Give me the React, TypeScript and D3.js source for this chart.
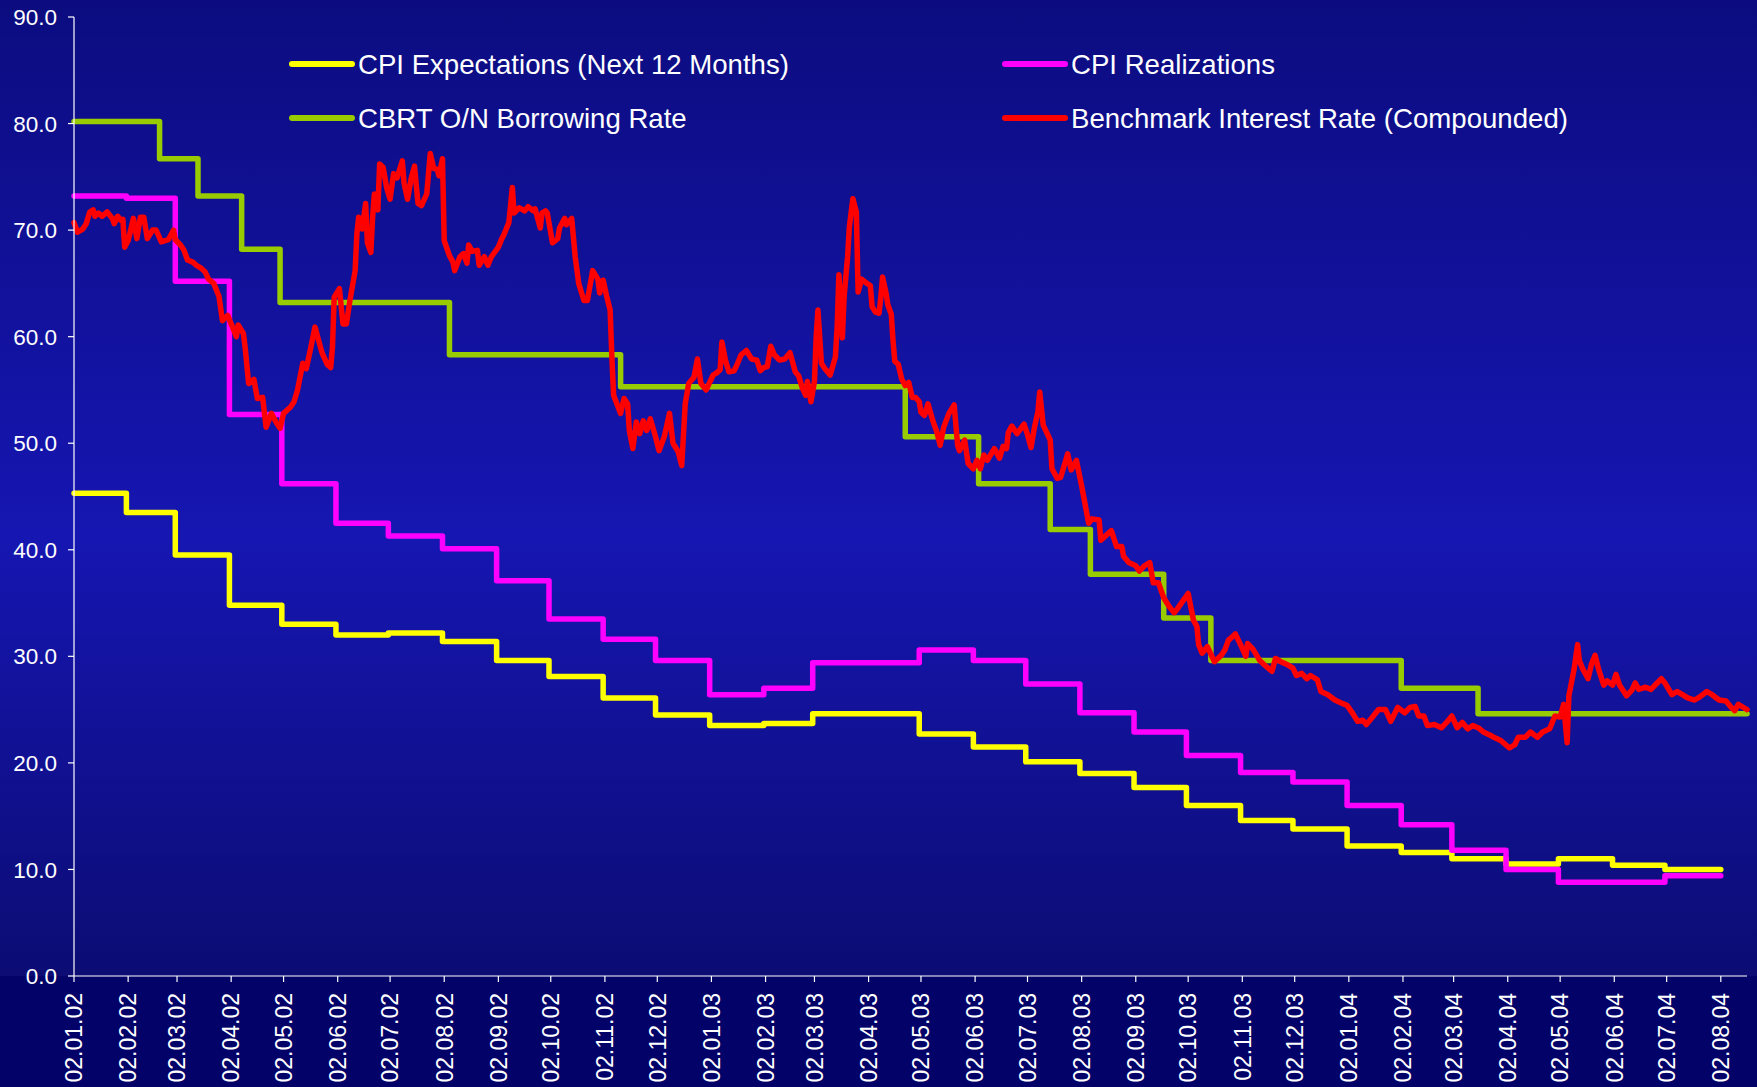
import React from "react";
import * as d3 from "d3";

const WIDTH = 1757;
const HEIGHT = 1087;

// X axis tick labels (dd.mm.yy)
const X_TICK_LABELS = [
  "02.01.02", "02.02.02", "02.03.02", "02.04.02", "02.05.02", "02.06.02", "02.07.02", "02.08.02",
  "02.09.02", "02.10.02", "02.11.02", "02.12.02", "02.01.03", "02.02.03", "02.03.03", "02.04.03",
  "02.05.03", "02.06.03", "02.07.03", "02.08.03", "02.09.03", "02.10.03", "02.11.03", "02.12.03",
  "02.01.04", "02.02.04", "02.03.04", "02.04.04", "02.05.04", "02.06.04", "02.07.04", "02.08.04",
];
const Y_TICKS = [0, 10, 20, 30, 40, 50, 60, 70, 80, 90];

// Step series: [date the level starts, value]
const CPI_EXPECTATIONS: [string, number][] = [
  ["2002-01-02", 45.3], ["2002-02-01", 43.5], ["2002-03-01", 39.5], ["2002-04-01", 34.8],
  ["2002-05-01", 33.0], ["2002-06-01", 32.0], ["2002-07-01", 32.2], ["2002-08-01", 31.4],
  ["2002-09-01", 29.6], ["2002-10-01", 28.1], ["2002-11-01", 26.1], ["2002-12-01", 24.5],
  ["2003-01-01", 23.5], ["2003-02-01", 23.7], ["2003-03-01", 24.6], ["2003-05-01", 22.7],
  ["2003-06-01", 21.5], ["2003-07-01", 20.1], ["2003-08-01", 19.0], ["2003-09-01", 17.7],
  ["2003-10-01", 16.0], ["2003-11-01", 14.6], ["2003-12-01", 13.8], ["2004-01-01", 12.2],
  ["2004-02-01", 11.6], ["2004-03-01", 11.0], ["2004-04-01", 10.5], ["2004-05-01", 11.0],
  ["2004-06-01", 10.4], ["2004-07-01", 10.0], ["2004-08-02", 10.0],
];

const CPI_REALIZATIONS: [string, number][] = [
  ["2002-01-02", 73.2], ["2002-02-01", 73.0], ["2002-03-01", 65.2], ["2002-04-01", 52.7],
  ["2002-05-01", 46.2], ["2002-06-01", 42.5], ["2002-07-01", 41.3], ["2002-08-01", 40.1],
  ["2002-09-01", 37.1], ["2002-10-01", 33.5], ["2002-11-01", 31.6], ["2002-12-01", 29.6],
  ["2003-01-01", 26.4], ["2003-02-01", 27.0], ["2003-03-01", 29.4], ["2003-05-01", 30.6],
  ["2003-06-01", 29.6], ["2003-07-01", 27.4], ["2003-08-01", 24.7], ["2003-09-01", 22.9],
  ["2003-10-01", 20.7], ["2003-11-01", 19.1], ["2003-12-01", 18.2], ["2004-01-01", 16.0],
  ["2004-02-01", 14.2], ["2004-03-01", 11.8], ["2004-04-01", 10.0], ["2004-05-01", 8.8],
  ["2004-07-01", 9.4], ["2004-08-02", 9.4],
];

const CBRT_ON_BORROWING: [string, number][] = [
  ["2002-01-02", 80.2], ["2002-02-20", 76.7], ["2002-03-14", 73.2], ["2002-04-08", 68.2],
  ["2002-04-30", 63.2], ["2002-08-05", 58.3], ["2002-11-11", 55.3], ["2003-04-23", 50.6],
  ["2003-06-04", 46.2], ["2003-07-15", 41.9], ["2003-08-07", 37.7], ["2003-09-18", 33.6],
  ["2003-10-15", 29.6], ["2004-02-01", 27.0], ["2004-03-16", 24.6], ["2004-08-17", 24.6],
];

// Benchmark rate: [calendar days since BENCHMARK_START, value]
const BENCHMARK_START = "2002-01-02";
const BENCHMARK_RATE: [number, number][] = [
  [0, 70.7], [2, 69.8], [5, 70.1], [7, 70.6], [9, 71.7], [11, 71.9], [12, 71.3], [14, 71.6],
  [16, 71.3], [19, 71.7], [22, 71.1], [23, 70.6], [25, 71.3], [27, 70.9], [28, 71.0], [29, 68.4],
  [31, 69.0], [34, 71.1], [36, 69.2], [38, 71.2], [40, 71.2], [42, 69.2], [45, 70.0], [47, 70.0],
  [50, 68.9], [54, 69.1], [57, 70.0], [58, 69.1], [61, 68.6], [63, 68.1], [65, 67.2], [68, 67.0],
  [70, 66.7], [73, 66.4], [75, 66.1], [77, 65.4], [80, 65.0], [83, 63.8], [85, 61.5], [88, 62.0],
  [90, 61.2], [93, 60.0], [94, 61.1], [97, 60.3], [98, 59.0], [100, 55.6], [103, 56.0], [105, 54.2],
  [108, 54.3], [110, 51.5], [113, 52.8], [116, 51.9], [118, 51.4], [120, 52.8], [124, 53.4], [126, 53.9],
  [128, 55.0], [131, 57.5], [133, 57.0], [135, 58.5], [138, 60.9], [140, 59.7], [142, 58.5], [145, 57.4],
  [147, 57.1], [148, 59.0], [149, 63.7], [152, 64.5], [154, 61.2], [156, 61.2], [158, 63.4], [161, 66.2],
  [162, 69.7], [163, 71.2], [165, 70.1], [167, 72.5], [168, 68.8], [170, 67.9], [171, 71.2], [172, 73.4],
  [174, 71.9], [175, 76.2], [177, 75.9], [179, 74.0], [181, 72.9], [183, 75.3], [185, 74.9], [188, 76.5],
  [189, 74.4], [191, 72.9], [193, 74.8], [195, 76.0], [197, 72.5], [199, 72.3], [202, 73.4], [204, 77.2],
  [206, 75.8], [208, 75.7], [209, 75.1], [211, 76.7], [212, 69.0], [215, 67.6], [217, 67.0], [218, 66.2],
  [221, 67.5], [223, 67.8], [225, 66.9], [226, 68.6], [228, 68.0], [231, 68.1], [232, 66.7], [235, 67.5],
  [237, 66.7], [239, 67.5], [243, 68.4], [245, 69.2], [246, 69.5], [249, 70.7], [251, 74.0], [252, 71.6],
  [255, 72.1], [258, 71.8], [260, 72.2], [263, 71.8], [264, 72.0], [267, 70.2], [268, 71.6], [270, 71.8],
  [271, 71.6], [274, 68.8], [277, 69.2], [278, 70.2], [281, 71.1], [282, 70.5], [285, 71.1], [287, 67.5],
  [289, 65.0], [292, 63.4], [294, 63.4], [297, 66.2], [300, 65.4], [301, 64.1], [303, 65.3], [305, 63.8],
  [307, 62.5], [308, 58.1], [309, 54.5], [313, 52.8], [315, 54.2], [317, 53.7], [318, 51.2], [320, 49.5],
  [322, 52.0], [324, 50.9], [326, 52.1], [328, 51.2], [330, 52.3], [333, 50.6], [335, 49.3], [338, 50.6],
  [341, 52.8], [343, 50.0], [346, 49.2], [348, 47.9], [350, 53.7], [352, 55.6], [355, 56.2], [357, 57.9],
  [359, 55.6], [362, 55.0], [366, 56.4], [368, 56.6], [370, 56.9], [371, 59.5], [373, 57.8], [375, 56.7],
  [378, 56.8], [380, 57.5], [382, 58.3], [385, 58.7], [388, 57.9], [391, 57.8], [393, 56.8], [395, 57.1],
  [397, 57.2], [399, 59.1], [401, 58.3], [404, 57.8], [407, 57.9], [410, 58.5], [413, 56.7], [415, 56.3],
  [417, 55.2], [419, 54.5], [420, 55.8], [422, 53.9], [424, 55.8], [425, 60.0], [426, 62.5], [428, 57.5],
  [430, 57.0], [433, 56.4], [436, 58.1], [437, 60.9], [438, 65.8], [440, 59.9], [441, 63.8], [443, 67.5],
  [444, 70.3], [446, 72.95], [448, 71.7], [449, 64.2], [450, 64.8], [451, 65.4], [454, 65.0], [456, 64.8],
  [457, 62.8], [459, 62.3], [461, 62.2], [462, 63.7], [463, 65.6], [465, 64.1], [466, 63.0], [468, 62.1],
  [469, 59.6], [470, 57.7], [472, 57.4], [474, 56.0], [476, 55.4], [478, 55.7], [480, 54.3], [482, 54.3],
  [484, 53.9], [485, 52.9], [487, 52.6], [489, 53.7], [492, 52.0], [494, 51.1], [496, 49.8], [498, 51.5],
  [501, 52.8], [504, 53.6], [506, 49.8], [507, 49.3], [510, 50.3], [512, 48.1], [515, 47.6], [517, 48.4],
  [519, 47.6], [521, 48.9], [523, 48.4], [527, 49.5], [530, 48.6], [532, 49.7], [534, 49.5], [535, 51.0],
  [537, 51.6], [540, 50.9], [544, 51.8], [546, 50.8], [548, 49.6], [550, 51.5], [552, 53.0], [553, 54.8],
  [555, 51.7], [559, 50.3], [560, 47.6], [563, 46.7], [565, 46.8], [569, 49.0], [571, 47.5], [574, 48.4],
  [577, 46.0], [581, 42.5], [583, 42.9], [587, 42.8], [588, 40.9], [590, 41.2], [594, 41.8], [597, 40.3],
  [600, 40.3], [601, 39.4], [604, 38.8], [608, 38.5], [610, 38.0], [613, 38.5], [616, 38.8], [618, 36.9],
  [621, 36.9], [624, 35.5], [627, 34.7], [630, 34.1], [632, 34.5], [635, 35.2], [638, 35.9], [641, 33.4],
  [643, 32.8], [644, 31.1], [646, 30.3], [649, 30.9], [653, 29.5], [657, 30.1], [659, 30.6], [661, 31.5],
  [665, 32.1], [668, 31.1], [671, 30.0], [672, 31.2], [675, 30.7], [679, 29.6], [683, 29.0], [686, 28.6],
  [688, 29.8], [691, 29.5], [695, 29.2], [698, 28.9], [700, 28.2], [703, 28.4], [706, 27.9], [708, 28.2],
  [712, 27.8], [714, 26.7], [718, 26.4], [722, 25.9], [726, 25.6], [729, 25.4], [732, 24.7], [735, 23.9],
  [738, 24.0], [740, 23.6], [743, 24.2], [747, 25.0], [751, 25.0], [754, 23.9], [758, 25.2], [762, 24.7],
  [765, 25.2], [768, 25.3], [770, 24.4], [773, 24.4], [775, 23.5], [779, 23.6], [783, 23.3], [786, 23.8],
  [789, 24.4], [792, 23.3], [795, 23.8], [798, 23.2], [801, 23.5], [804, 23.3], [807, 22.9], [811, 22.6],
  [813, 22.4], [817, 22.1], [822, 21.4], [825, 21.7], [827, 22.4], [831, 22.4], [834, 22.9], [838, 22.4],
  [841, 22.9], [845, 23.2], [848, 24.4], [851, 24.3], [853, 25.5], [855, 21.9], [856, 26.3], [859, 28.8],
  [861, 31.1], [862, 29.6], [864, 28.8], [867, 27.9], [869, 29.3], [871, 30.1], [873, 28.8], [876, 27.3],
  [878, 27.7], [881, 27.3], [883, 28.3], [885, 27.3], [889, 26.3], [892, 26.8], [894, 27.5], [896, 26.9],
  [900, 27.1], [903, 26.9], [906, 27.4], [909, 27.9], [911, 27.5], [915, 26.4], [918, 26.7], [921, 26.4],
  [924, 26.1], [928, 25.9], [931, 26.2], [935, 26.7], [938, 26.4], [942, 25.9], [946, 25.8], [949, 25.2],
  [951, 24.9], [953, 25.5], [956, 25.2], [958, 25.0],
];

const SERIES_NAMES = [
  "CPI Expectations (Next 12 Months)",
  "CPI Realizations",
  "CBRT O/N Borrowing Rate",
  "Benchmark Interest Rate (Compounded)",
];
const SERIES_COLORS = ["#FFFF00", "#FF00FF", "#99CC00", "#FF0000"];

const FONT = "'Liberation Sans', Arial, Helvetica, sans-serif";

export default function App() {
  const parseISO = d3.timeParse("%Y-%m-%d");
  const parseTick = d3.timeParse("%d.%m.%y");
  const start = parseISO(BENCHMARK_START) as Date;

  const toPts = (arr: [string, number][]) =>
    arr.map(([d, v]) => ({ date: parseISO(d) as Date, value: v }));
  const expectations = toPts(CPI_EXPECTATIONS);
  const realizations = toPts(CPI_REALIZATIONS);
  const cbrt = toPts(CBRT_ON_BORROWING);
  const benchmark = BENCHMARK_RATE.map(([d, v]) => ({
    date: d3.timeDay.offset(start, d),
    value: v,
  }));

  const left = 74;
  const right = 1747;
  const top = 17;
  const bottom = 976;

  const x = d3
    .scaleTime()
    .domain([start, benchmark[benchmark.length - 1].date])
    .range([left, right]);
  const y = d3.scaleLinear().domain([0, 90]).range([bottom, top]);

  const stepLine = d3
    .line<{ date: Date; value: number }>()
    .x((d) => x(d.date))
    .y((d) => y(d.value))
    .curve(d3.curveStepAfter);
  const linLine = d3
    .line<{ date: Date; value: number }>()
    .x((d) => x(d.date))
    .y((d) => y(d.value));

  const xTicks = X_TICK_LABELS.map((l) => ({ label: l, date: parseTick(l) as Date }));

  const legend = [
    { name: SERIES_NAMES[0], color: SERIES_COLORS[0], lx: 292, ly: 64 },
    { name: SERIES_NAMES[1], color: SERIES_COLORS[1], lx: 1005, ly: 64 },
    { name: SERIES_NAMES[2], color: SERIES_COLORS[2], lx: 292, ly: 118 },
    { name: SERIES_NAMES[3], color: SERIES_COLORS[3], lx: 1005, ly: 118 },
  ];

  return (
    <svg
      width={WIDTH}
      height={HEIGHT}
      style={{ position: "absolute", left: 0, top: 0, display: "block" }}
      fontFamily={FONT}
    >
      <defs>
        <linearGradient id="bg" gradientUnits="userSpaceOnUse" x1="0" y1="0" x2="0" y2={bottom}>
          <stop offset="0" stopColor="#0c0c80" />
          <stop offset="0.55" stopColor="#1616b2" />
          <stop offset="1" stopColor="#0c0c74" />
        </linearGradient>
      </defs>
      <rect x={0} y={0} width={WIDTH} height={bottom} fill="url(#bg)" />
      <rect x={0} y={bottom} width={WIDTH} height={HEIGHT - bottom} fill="#020268" />

      {/* data lines */}
      <g fill="none" strokeWidth={5.5} strokeLinejoin="round" strokeLinecap="round">
        <path d={stepLine(expectations) || ""} stroke={SERIES_COLORS[0]} />
        <path d={stepLine(realizations) || ""} stroke={SERIES_COLORS[1]} />
        <path d={stepLine(cbrt) || ""} stroke={SERIES_COLORS[2]} />
        <path d={linLine(benchmark) || ""} stroke={SERIES_COLORS[3]} />
      </g>

      {/* y axis */}
      <line x1={left} x2={left} y1={top} y2={bottom} stroke="#ffffff" strokeWidth={1.2} />
      {Y_TICKS.map((t) => (
        <g key={t}>
          <line x1={left - 6} x2={left} y1={y(t)} y2={y(t)} stroke="#ffffff" strokeWidth={1.2} />
          <text
            x={57}
            y={y(t)}
            dy="0.36em"
            textAnchor="end"
            fill="#ffffff"
            fontSize={22.5}
          >
            {d3.format(".1f")(t)}
          </text>
        </g>
      ))}

      {/* x axis */}
      <line x1={left} x2={right} y1={bottom} y2={bottom} stroke="#ffffff" strokeWidth={1.2} />
      {xTicks.map((t) => (
        <g key={t.label}>
          <line x1={x(t.date)} x2={x(t.date)} y1={bottom} y2={bottom + 6} stroke="#ffffff" strokeWidth={1.2} />
          <text
            transform={`translate(${x(t.date)},${993}) rotate(-90)`}
            dy="0.36em"
            textAnchor="end"
            fill="#ffffff"
            fontSize={23}
          >
            {t.label}
          </text>
        </g>
      ))}

      {/* legend */}
      {legend.map((l) => (
        <g key={l.name}>
          <line
            x1={l.lx}
            x2={l.lx + 60}
            y1={l.ly}
            y2={l.ly}
            stroke={l.color}
            strokeWidth={6}
            strokeLinecap="round"
          />
          <text x={l.lx + 66} y={l.ly} dy="0.36em" fill="#ffffff" fontSize={27.6}>
            {l.name}
          </text>
        </g>
      ))}
    </svg>
  );
}
